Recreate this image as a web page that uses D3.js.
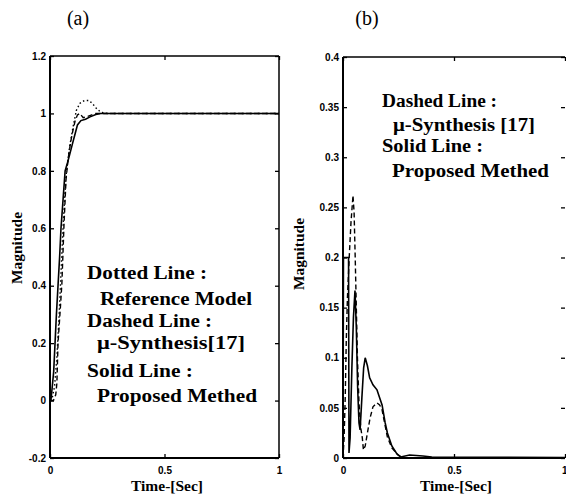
<!DOCTYPE html>
<html><head><meta charset="utf-8">
<script src="https://cdn.jsdelivr.net/npm/d3@7"></script>
<style>body{margin:0;background:#fff;overflow:hidden}</style>
</head><body><svg id="c" width="566" height="495"></svg>
<script>
// ---------- data ----------
const xTicks = [0, 0.5, 1];
const xTickLabels = ["0", "0.5", "1"];

const aYTicks = [-0.2, 0, 0.2, 0.4, 0.6, 0.8, 1, 1.2];
const aYTickLabels = ["-0.2", "0", "0.2", "0.4", "0.6", "0.8", "1", "1.2"];
const bYTicks = [0, 0.05, 0.1, 0.15, 0.2, 0.25, 0.3, 0.35, 0.4];
const bYTickLabels = ["0", "0.05", "0.1", "0.15", "0.2", "0.25", "0.3", "0.35", "0.4"];

// (a) step responses [time, magnitude]
const aReference = [[0,0],[0.01,0.01],[0.02,0.05],[0.03,0.15],[0.04,0.3],[0.05,0.48],[0.058,0.62],[0.065,0.72],[0.072,0.8],[0.085,0.88],[0.1,0.95],[0.115,1.01],[0.13,1.035],[0.15,1.045],[0.17,1.045],[0.185,1.035],[0.2,1.02],[0.22,1.005],[0.25,1.0],[1,1]];
const aMuSynthesis = [[0,0],[0.015,0],[0.025,0.02],[0.03,0.06],[0.035,0.2],[0.045,0.32],[0.052,0.41],[0.061,0.61],[0.07,0.77],[0.079,0.84],[0.09,0.9],[0.1,0.94],[0.11,0.975],[0.12,0.995],[0.13,1.0],[0.145,0.985],[0.165,0.99],[0.2,1.0],[1,1]];
const aProposed = [[0,0],[0.004,0],[0.01,0.05],[0.016,0.1],[0.022,0.2],[0.028,0.3],[0.035,0.4],[0.042,0.5],[0.048,0.6],[0.057,0.7],[0.066,0.8],[0.077,0.83],[0.087,0.86],[0.1,0.9],[0.11,0.93],[0.12,0.96],[0.135,0.975],[0.155,0.98],[0.175,0.988],[0.2,0.996],[0.22,1.0],[1,1]];

// (b) error responses [time, magnitude]
const bMuSynthesis = [[0,0],[0.005,0.02],[0.01,0.06],[0.015,0.12],[0.02,0.16],[0.028,0.2],[0.036,0.235],[0.045,0.262],[0.05,0.245],[0.055,0.2],[0.06,0.15],[0.065,0.1],[0.072,0.055],[0.08,0.03],[0.087,0.02],[0.092,0.008],[0.1,0.012],[0.11,0.025],[0.122,0.04],[0.135,0.051],[0.153,0.055],[0.165,0.053],[0.176,0.048],[0.19,0.032],[0.2,0.021],[0.22,0.01],[0.248,0.003],[0.27,0],[1,0]];
const bProposed = [[0,0],[0.002,0.2],[0.025,0.2],[0.027,0.005],[0.032,0.02],[0.04,0.09],[0.047,0.14],[0.054,0.167],[0.06,0.13],[0.066,0.07],[0.072,0.035],[0.077,0.028],[0.085,0.06],[0.093,0.09],[0.1,0.1],[0.11,0.092],[0.12,0.08],[0.135,0.073],[0.153,0.068],[0.165,0.06],[0.176,0.053],[0.19,0.035],[0.2,0.025],[0.22,0.012],[0.243,0.004],[0.26,0.001],[0.3,0.003],[0.36,0.002],[0.4,0.001],[1,0.0005]];

const aLegend = ["Dotted Line :", "Reference Model", "Dashed Line :", "\u03bc-Synthesis[17]", "Solid Line :", "Proposed Methed"];
const bLegend = ["Dashed Line :", "\u03bc-Synthesis [17]", "Solid Line :", "Proposed Methed"];

// ---------- drawing ----------
const svg = d3.select("#c");
const serif = "'Liberation Serif', 'DejaVu Serif', serif";
const sans = "'Liberation Sans', Arial, sans-serif";

function panel(cfg) {
  const x = d3.scaleLinear().domain([0, 1]).range(cfg.xr);
  const y = d3.scaleLinear().domain(cfg.yd).range(cfg.yr);
  const g = svg.append("g");

  const styleAxis = sel => {
    sel.select(".domain").remove();
    sel.selectAll(".tick line").attr("stroke", "#000").attr("stroke-width", 1.3);
    sel.selectAll("text").attr("font-family", sans).attr("font-weight", "bold")
      .attr("font-size", 10).attr("fill", "#000");
  };

  g.append("g").attr("transform", `translate(${cfg.xr[0]},0)`)
    .call(d3.axisLeft(y).tickValues(cfg.yt).tickFormat((d, i) => cfg.ytl[i]).tickSize(-4).tickPadding(4))
    .call(styleAxis);
  g.append("g").attr("transform", `translate(${cfg.xr[1]},0)`)
    .call(d3.axisRight(y).tickValues(cfg.yt).tickFormat("").tickSize(-4))
    .call(styleAxis);
  const xb = g.append("g").attr("transform", `translate(0,${cfg.yr[0]})`)
    .call(d3.axisBottom(x).tickValues(xTicks).tickFormat((d, i) => xTickLabels[i]).tickSize(-4).tickPadding(9))
    .call(styleAxis);
  if (cfg.lastLabelEnd) {
    xb.selectAll(".tick").filter(d => d === 1).select("text").attr("text-anchor", "end").attr("x", 2);
  }
  g.append("g").attr("transform", `translate(0,${cfg.yr[1]})`)
    .call(d3.axisTop(x).tickValues(xTicks).tickFormat("").tickSize(-4))
    .call(styleAxis);

  // frame
  const fr = g.append("g").attr("stroke", "#000").attr("stroke-width", 2).attr("fill", "none");
  fr.append("line").attr("x1", cfg.xr[0]).attr("x2", cfg.xr[0]).attr("y1", cfg.yr[0]).attr("y2", cfg.yr[1]);
  fr.append("line").attr("x1", cfg.xr[0]).attr("x2", cfg.xr[1]).attr("y1", cfg.yr[0]).attr("y2", cfg.yr[0]);
  fr.append("line").attr("x1", cfg.xr[0]).attr("x2", cfg.xr[1]).attr("y1", cfg.yr[1]).attr("y2", cfg.yr[1]).attr("stroke-width", 1.5);
  if (cfg.rightBorder) fr.append("line").attr("x1", cfg.xr[1]).attr("x2", cfg.xr[1]).attr("y1", cfg.yr[0]).attr("y2", cfg.yr[1]).attr("stroke-width", 1.5);

  const line = d3.line().x(d => x(d[0])).y(d => y(d[1]));
  cfg.series.forEach(s => {
    g.append("path").datum(s.data).attr("d", line).attr("fill", "none")
      .attr("stroke", "#000").attr("stroke-width", s.w).attr("stroke-dasharray", s.dash);
  });

  // legend text
  cfg.legend.forEach((t, i) => {
    g.append("text").attr("x", cfg.lx[i]).attr("y", cfg.ly[i]).text(t)
      .attr("font-family", serif).attr("font-weight", "bold").attr("font-size", 18)
      .attr("textLength", cfg.lw[i]).attr("lengthAdjust", "spacingAndGlyphs");
  });

  // axis titles
  g.append("text").attr("transform", `translate(${cfg.ylx},${cfg.yly}) rotate(-90)`)
    .attr("text-anchor", "middle").text("Magnitude")
    .attr("font-family", serif).attr("font-weight", "bold").attr("font-size", 14)
    .attr("textLength", 72).attr("lengthAdjust", "spacingAndGlyphs");
  g.append("text").attr("x", cfg.xlx).attr("y", 491).attr("text-anchor", "middle").text("Time-[Sec]")
    .attr("font-family", serif).attr("font-weight", "bold").attr("font-size", 15)
    .attr("textLength", 72).attr("lengthAdjust", "spacingAndGlyphs");
  g.append("text").attr("x", cfg.tx).attr("y", 25).attr("text-anchor", "middle").text(cfg.title)
    .attr("font-family", serif).attr("font-size", 20);
}

panel({
  xr: [50, 279], yd: [-0.2, 1.2], yr: [458, 56], yt: aYTicks, ytl: aYTickLabels, rightBorder: true,
  series: [
    { data: aReference, w: 1.4, dash: "1.5,2.5" },
    { data: aMuSynthesis, w: 1.4, dash: "5,3" },
    { data: aProposed, w: 1.6, dash: null }
  ],
  legend: aLegend,
  lx: [87, 100, 87, 97, 87, 97],
  ly: [279, 305, 327, 349, 377, 402],
  lw: [120, 152, 125, 148, 106, 160],
  ylx: 22, yly: 248, xlx: 167, tx: 78, title: "(a)"
});

panel({
  xr: [343, 565], yd: [0, 0.4], yr: [458, 57], yt: bYTicks, ytl: bYTickLabels, rightBorder: false, lastLabelEnd: true,
  series: [
    { data: bMuSynthesis, w: 1.4, dash: "5,3" },
    { data: bProposed, w: 1.6, dash: null }
  ],
  legend: bLegend,
  lx: [382, 393, 382, 392],
  ly: [107, 131, 152, 177],
  lw: [115, 142, 101, 157],
  ylx: 304, yly: 254, xlx: 456, tx: 367, title: "(b)"
});
</script></body></html>
